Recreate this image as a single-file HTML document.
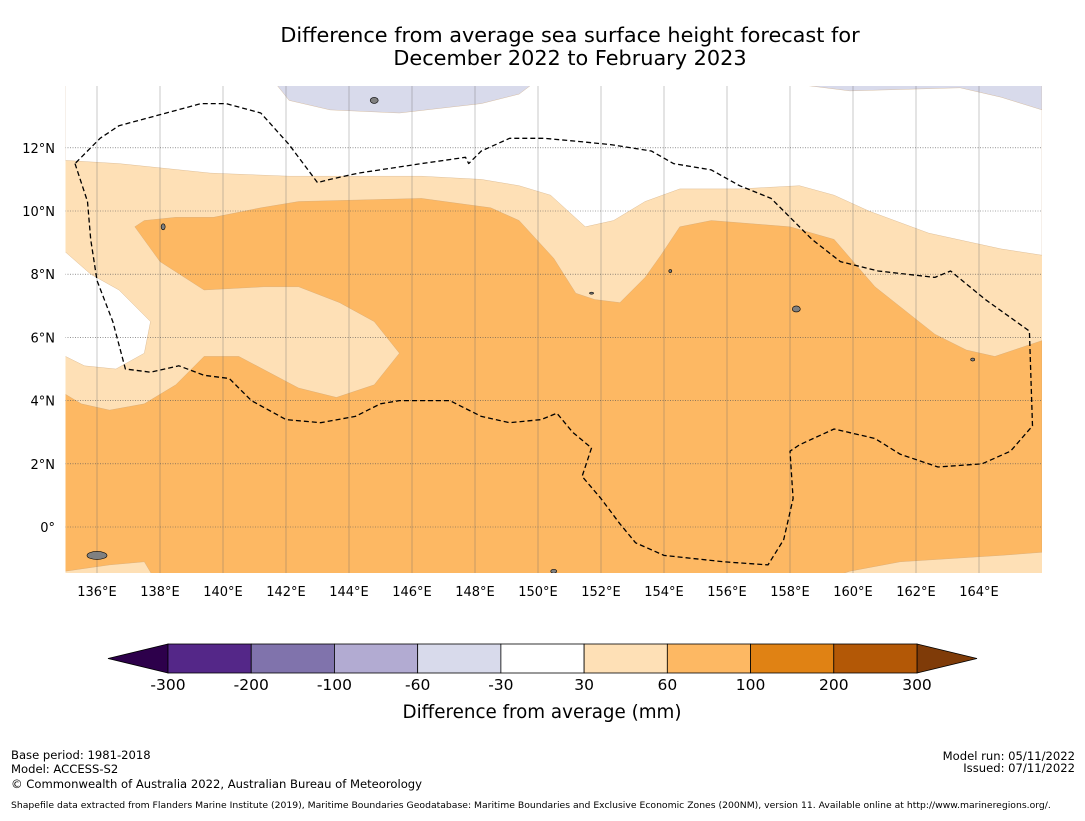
<!DOCTYPE html>
<html><head><meta charset="utf-8"><style>
body{margin:0;background:#fff;font-family:"Liberation Sans","DejaVu Sans",sans-serif}
svg text{font-family:"DejaVu Sans","Liberation Sans",sans-serif}
</style></head><body>
<svg id="s" width="1085" height="816" viewBox="0 0 1085 816" xmlns="http://www.w3.org/2000/svg">
<text x="570" y="42" font-size="20.8" text-anchor="middle">Difference from average sea surface height forecast for</text>
<text x="570" y="65" font-size="20.8" text-anchor="middle">December 2022 to February 2023</text>
<defs><clipPath id="mc"><rect x="65.5" y="86" width="976.5" height="487"/></clipPath></defs>
<g id="map" clip-path="url(#mc)"></g>
<g id="axes"></g>
<g id="cbar"></g>
<text x="542" y="718" font-size="18.3" text-anchor="middle">Difference from average (mm)</text>
<g font-size="11.6">
<text x="11" y="759">Base period: 1981-2018</text>
<text x="11" y="773">Model: ACCESS-S2</text>
<text x="11" y="788">© Commonwealth of Australia 2022, Australian Bureau of Meteorology</text>
<text x="1075" y="760" text-anchor="end">Model run: 05/11/2022</text>
<text x="1075" y="772" text-anchor="end">Issued: 07/11/2022</text>
<text x="11" y="808" font-size="9.25">Shapefile data extracted from Flanders Marine Institute (2019), Maritime Boundaries Geodatabase: Maritime Boundaries and Exclusive Economic Zones (200NM), version 11. Available online at http://www.marineregions.org/.</text>
</g>
</svg>
<script>
const lonTicks=[136,138,140,142,144,146,148,150,152,154,156,158,160,162,164];
const latTicks=[0,2,4,6,8,10,12];
const latLabels=["0°","2°N","4°N","6°N","8°N","10°N","12°N"];
const whiteTop=[[135,11.6],[136.7,11.5],[139.6,11.2],[142.1,11.1],[146.3,11.1],[148.2,11.0],[149.4,10.8],[150.4,10.5],[151.5,9.5],[152.4,9.7],[153.4,10.3],[154.5,10.7],[156.4,10.7],[158.3,10.8],[159.4,10.5],[160.5,10.0],[162.4,9.3],[164.7,8.8],[166,8.6],[166,14.5],[135,14.5]];
const whiteLeft=[[134.5,8.7],[135,8.7],[135.8,8.0],[136.7,7.5],[137.7,6.5],[137.5,5.5],[136.6,5.0],[135.6,5.1],[135,5.4],[134.5,5.4]];
const lav1=[[141.7,14.5],[141.7,14],[142.1,13.5],[143.4,13.2],[145.6,13.1],[148.2,13.4],[149.4,13.7],[149.8,14],[149.8,14.5]];
const lav2=[[158.3,14.5],[158.3,14],[159.9,13.8],[163.4,13.9],[164.7,13.6],[166,13.2],[166,14.5]];
const orange=[[137.2,9.5],[137.5,9.7],[138.5,9.8],[139.7,9.8],[141.2,10.1],[142.4,10.3],[146.3,10.4],[148.5,10.1],[149.4,9.7],[150.5,8.5],[151.2,7.4],[151.8,7.2],[152.6,7.1],[153.4,7.9],[153.9,8.6],[154.5,9.5],[155.5,9.7],[158.0,9.5],[159.4,9.1],[160.7,7.6],[162.6,6.1],[163.6,5.6],[164.5,5.4],[166,5.9],[166,-0.8],[164.7,-0.9],[161.5,-1.1],[159.9,-1.4],[159.3,-1.6],[137.8,-1.6],[137.5,-1.1],[136.4,-1.2],[135,-1.4],[134.5,-1.4],[134.5,4.2],[135,4.2],[135.5,3.9],[136.4,3.7],[137.5,3.9],[138.5,4.5],[139.4,5.4],[140.5,5.4],[142.4,4.4],[143.6,4.1],[144.8,4.5],[145.6,5.5],[144.8,6.5],[143.7,7.1],[142.4,7.6],[141.3,7.6],[139.4,7.5],[138.0,8.4]];
const eez=[[135.3,11.5],[135.7,10.3],[135.8,9.1],[136.0,7.8],[136.5,6.5],[136.9,5.0],[137.7,4.9],[138.6,5.1],[139.4,4.8],[140.2,4.7],[140.9,4.0],[142.0,3.4],[143.1,3.3],[144.2,3.5],[145.0,3.9],[145.6,4.0],[147.2,4.0],[148.2,3.5],[149.1,3.3],[150.1,3.4],[150.6,3.6],[151.1,3.0],[151.7,2.5],[151.4,1.6],[152.0,0.9],[152.6,0.1],[153.1,-0.5],[154.0,-0.9],[155.9,-1.1],[157.3,-1.2],[157.8,-0.4],[158.1,0.9],[158.0,2.4],[158.3,2.6],[159.4,3.1],[160.7,2.8],[161.5,2.3],[162.7,1.9],[164.1,2.0],[165.0,2.4],[165.7,3.2],[165.6,6.2],[164.2,7.2],[163.1,8.1],[162.6,7.9],[160.8,8.1],[159.6,8.4],[158.7,9.1],[158.0,9.8],[157.4,10.4],[156.4,10.8],[155.5,11.3],[154.3,11.5],[153.6,11.9],[152.3,12.1],[151.3,12.2],[150.2,12.3],[149.1,12.3],[148.2,11.9],[147.8,11.5],[147.7,11.7],[146.3,11.5],[144.3,11.2],[143.4,11.0],[143.0,10.9],[142.1,12.1],[141.2,13.1],[140.1,13.4],[139.3,13.4],[138.2,13.1],[136.7,12.7],[136.1,12.3],[135.3,11.5]];
const islands=[[136.0,-0.9,10,4],[144.8,13.5,4,3],[158.2,6.9,4,3],[138.1,9.5,2,3],[150.5,-1.4,3,2],[163.8,5.3,2,1.5],[154.2,8.1,1.5,1.5],[151.7,7.4,2,1]];
const cbBounds=["-300","-200","-100","-60","-30","30","60","100","200","300"];
const cbColors=["#542788","#8073ac","#b2abd2","#d8daeb","#ffffff","#fee0b6","#fdb863","#e08214","#b35806"];

const NS="http://www.w3.org/2000/svg";
const X=lon=>65.5+(lon-135)*31.5;
const Y=lat=>527-lat*31.6;
function mk(tag,attrs,parent){const e=document.createElementNS(NS,tag);for(const k in attrs)e.setAttribute(k,attrs[k]);parent.appendChild(e);return e;}
const map=document.getElementById('map'),axes=document.getElementById('axes'),cb=document.getElementById('cbar');
const pts=a=>a.map(p=>X(p[0]).toFixed(1)+','+Y(p[1]).toFixed(1)).join(' ');
let bg=mk('rect',{x:65,y:86,width:977,height:487,fill:'#fee0b6'},map);


function poly(a,fill,name){const e=mk('polygon',{points:pts(a),fill:fill,stroke:'#c8a070','stroke-width':0.3},map);

}
poly(whiteTop,'#ffffff','contour-neutral-north');
poly(whiteLeft,'#ffffff','contour-neutral-west');
poly(lav1,'#d8daeb','contour-minus30-minus60-a');
poly(lav2,'#d8daeb','contour-minus30-minus60-b');
poly(orange,'#fdb863','contour-60-100');
lonTicks.forEach(l=>{const e=mk('line',{x1:X(l),x2:X(l),y1:86,y2:573,stroke:'#666','stroke-width':0.6,'opacity':0.6},map);


const t=mk('text',{x:X(l),y:596,'font-size':13,'text-anchor':'middle'},axes);t.textContent=l+'°E';

});
latTicks.forEach((l,i)=>{const e=mk('line',{x1:65,x2:1042,y1:Y(l),y2:Y(l),stroke:'#555','stroke-width':0.6,'stroke-dasharray':'1,1.5'},map);


const t=mk('text',{x:55,y:Y(l)+5,'font-size':13,'text-anchor':'end'},axes);t.textContent=latLabels[i];

});
islands.forEach(p=>{const e=mk('ellipse',{cx:X(p[0]),cy:Y(p[1]),rx:p[2],ry:p[3],fill:'#808080',stroke:'#000','stroke-width':0.6},map);

});
const ez=mk('polyline',{points:pts(eez),fill:'none',stroke:'#000','stroke-width':1.3,'stroke-dasharray':'5,3','stroke-linejoin':'round'},map);


const cx0=168,cx1=917,cy=644,ch=29,bw=(cx1-cx0)/cbColors.length;
const lt=mk('polygon',{points:`${cx0},${cy} ${cx0},${cy+ch} 108,${cy+ch/2}`,fill:'#2d004b',stroke:'#000','stroke-width':0.8},cb);


const rt=mk('polygon',{points:`${cx1},${cy} ${cx1},${cy+ch} 977,${cy+ch/2}`,fill:'#7f3b08',stroke:'#000','stroke-width':0.8},cb);


cbColors.forEach((c,i)=>{const r=mk('rect',{x:cx0+i*bw,y:cy,width:bw,height:ch,fill:c,stroke:'#000','stroke-width':0.8},cb);

});
cbBounds.forEach((b,i)=>{const t=mk('text',{x:cx0+i*bw,y:690,'font-size':15.5,'text-anchor':'middle'},cb);t.textContent=b;

});
</script>
</body></html>
